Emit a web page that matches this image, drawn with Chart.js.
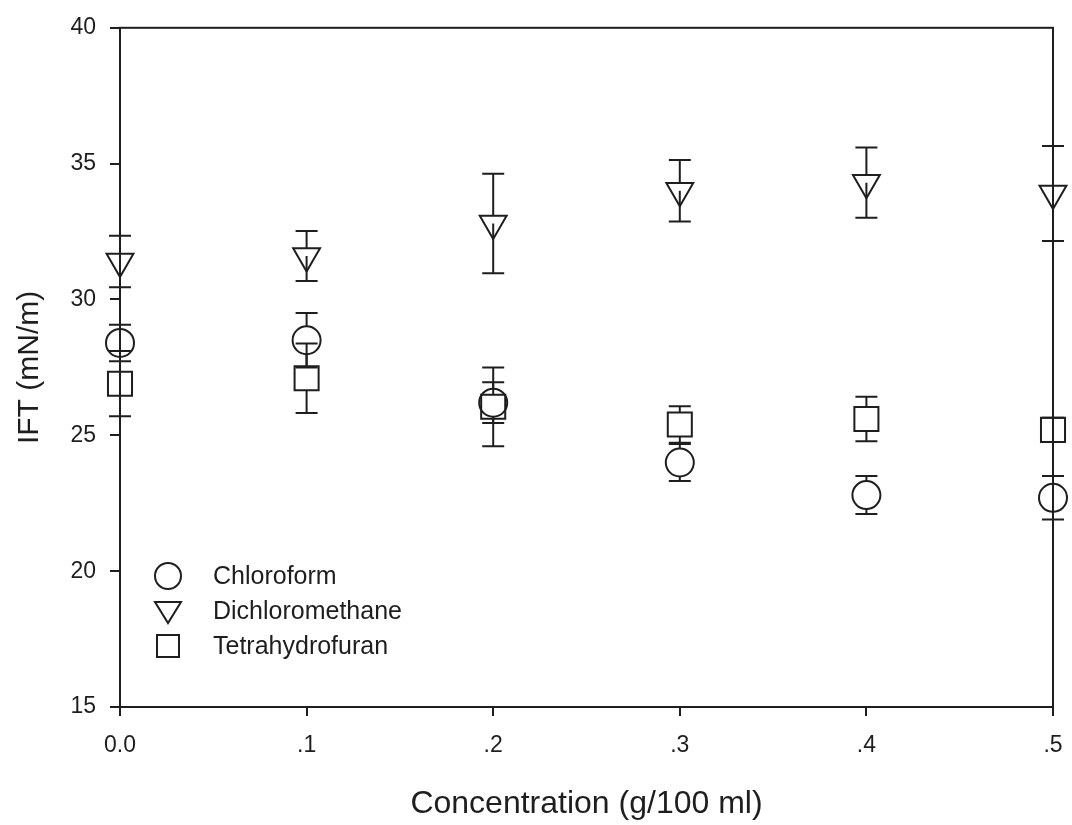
<!DOCTYPE html>
<html>
<head>
<meta charset="utf-8">
<script src="https://cdn.jsdelivr.net/npm/chart.js@4.4.1/dist/chart.umd.min.js"></script>
<style>
  html, body { margin: 0; padding: 0; background: #fff; }
  #wrap { width: 1072px; height: 825px; }
</style>
</head>
<body>
<div id="wrap"><canvas id="iftChart" width="1072" height="825"></canvas></div>
<script>
// values
const concentrations = [0.0, 0.1, 0.2, 0.3, 0.4, 0.5];

const chloroform    = [28.4, 28.5, 26.2, 24.0, 22.8, 22.7];
const chloroformErr = [0.67, 1.0, 0.75, 0.68, 0.7, 0.8];

const dichloromethane    = [31.4, 31.6, 32.8, 34.0, 34.3, 33.9];
const dichloromethaneErr = [0.95, 0.92, 1.83, 1.13, 1.29, 1.75];

const tetrahydrofuran    = [26.9, 27.1, 26.05, 25.4, 25.6, 25.2];
const tetrahydrofuranErr = [1.2, 1.28, 1.45, 0.67, 0.82, 0.45];

const xTickLabels = ['0.0', '.1', '.2', '.3', '.4', '.5'];
const yTickValues = [15, 20, 25, 30, 35, 40];

const ink = '#1e1e1e';
const fontFamily = '"Liberation Sans", Arial, sans-serif';

function toPoints(values) {
  return values.map((v, i) => ({ x: concentrations[i], y: v }));
}

// error bars start at the marker edge, like the original plot
const errorBars = {
  id: 'errorBars',
  afterDatasetsDraw(chart) {
    const ctx = chart.ctx;
    const xs = chart.scales.x;
    const ys = chart.scales.y;
    chart.data.datasets.forEach(ds => {
      ctx.save();
      ctx.strokeStyle = ink;
      ctx.lineWidth = 2;
      ds.data.forEach((pt, i) => {
        const e = ds.errors[i];
        const px = xs.getPixelForValue(pt.x);
        const py = ys.getPixelForValue(pt.y);
        const top = ys.getPixelForValue(pt.y + e);
        const bot = ys.getPixelForValue(pt.y - e);
        ctx.beginPath();
        if (top < py - ds.gapUp) {
          ctx.moveTo(px, top);
          ctx.lineTo(px, py - ds.gapUp);
        }
        if (bot > py + ds.gapDown) {
          ctx.moveTo(px, py + ds.gapDown);
          ctx.lineTo(px, bot);
        }
        ctx.moveTo(px - 11, top);
        ctx.lineTo(px + 11, top);
        ctx.moveTo(px - 11, bot);
        ctx.lineTo(px + 11, bot);
        ctx.stroke();
      });
      ctx.restore();
    });
  }
};

// box round the plot area
const frame = {
  id: 'frame',
  afterDraw(chart) {
    const a = chart.chartArea;
    const ctx = chart.ctx;
    ctx.save();
    ctx.strokeStyle = ink;
    ctx.lineWidth = 2;
    ctx.strokeRect(a.left, a.top, a.right - a.left, a.bottom - a.top);
    ctx.restore();
  }
};

// legend sits inside the plot, bottom left
const insideLegend = {
  id: 'insideLegend',
  afterDraw(chart) {
    const ctx = chart.ctx;
    const a = chart.chartArea;
    const sx = a.left + 48;
    const tx = a.left + 93;
    let y = a.bottom - 131;
    ctx.save();
    ctx.strokeStyle = ink;
    ctx.fillStyle = ink;
    ctx.lineWidth = 2;
    ctx.font = '25px ' + fontFamily;
    ctx.textBaseline = 'middle';
    chart.data.datasets.forEach(ds => {
      ctx.beginPath();
      if (ds.pointStyle === 'circle') {
        ctx.arc(sx, y, 13, 0, Math.PI * 2);
      } else if (ds.pointStyle === 'triangle') {
        ctx.moveTo(sx - 13, y - 9);
        ctx.lineTo(sx + 13, y - 9);
        ctx.lineTo(sx, y + 12);
        ctx.closePath();
      } else {
        ctx.rect(sx - 11, y - 11, 22, 22);
      }
      ctx.stroke();
      ctx.fillText(ds.label, tx, y + 1);
      y += 35;
    });
    ctx.restore();
  }
};

const ctx = document.getElementById('iftChart').getContext('2d');
const chart = new Chart(ctx, {
  type: 'scatter',
  data: {
    datasets: [
      {
        label: 'Chloroform',
        data: toPoints(chloroform),
        errors: chloroformErr,
        pointStyle: 'circle',
        pointRadius: 14,
        gapUp: 14, gapDown: 14
      },
      {
        label: 'Dichloromethane',
        data: toPoints(dichloromethane),
        errors: dichloromethaneErr,
        pointStyle: 'triangle',
        rotation: 180,
        pointRadius: 15.5,
        gapUp: 7.75, gapDown: 0
      },
      {
        label: 'Tetrahydrofuran',
        data: toPoints(tetrahydrofuran),
        errors: tetrahydrofuranErr,
        pointStyle: 'rect',
        pointRadius: 17,
        gapUp: 12, gapDown: 12
      }
    ].map(ds => Object.assign(ds, {
      showLine: false,
      clip: false,
      borderColor: ink,
      backgroundColor: 'rgba(0,0,0,0)',
      pointBorderWidth: 2,
      pointHoverRadius: ds.pointRadius
    }))
  },
  options: {
    responsive: false,
    animation: false,
    devicePixelRatio: 1,
    layout: { padding: { left: 12, top: 27, right: 15, bottom: 2 } },
    plugins: {
      legend: { display: false },
      tooltip: { enabled: false }
    },
    scales: {
      x: {
        type: 'linear',
        min: 0,
        max: 0.5,
        afterBuildTicks: scale => {
          scale.ticks = concentrations.map(v => ({ value: v }));
        },
        ticks: {
          color: ink,
          font: { family: fontFamily, size: 23 },
          padding: 16,
          maxRotation: 0,
          callback: (value, index) => xTickLabels[index]
        },
        grid: {
          display: true,
          drawOnChartArea: false,
          drawTicks: true,
          tickLength: 9,
          color: ink,
          lineWidth: 2
        },
        border: { display: true, color: ink, width: 2 },
        title: {
          display: true,
          text: 'Concentration (g/100 ml)',
          color: ink,
          font: { family: fontFamily, size: 32 },
          padding: { top: 20, bottom: 0 }
        },
        afterFit: scale => {
          scale.height = 116;
          scale.paddingLeft = 0;
          scale.paddingRight = 0;
        }
      },
      y: {
        type: 'linear',
        min: 15,
        max: 40,
        afterBuildTicks: scale => {
          scale.ticks = yTickValues.map(v => ({ value: v }));
        },
        ticks: {
          color: ink,
          font: { family: fontFamily, size: 23 },
          padding: 14,
          callback: value => String(value)
        },
        grid: {
          display: true,
          drawOnChartArea: false,
          drawTicks: true,
          tickLength: 10,
          color: ink,
          lineWidth: 2
        },
        border: { display: true, color: ink, width: 2 },
        title: {
          display: true,
          text: 'IFT (mN/m)',
          color: ink,
          font: { family: fontFamily, size: 30 },
          padding: { top: 0, bottom: 0 }
        },
        afterFit: scale => { scale.width = 108; }
      }
    }
  },
  plugins: [errorBars, frame, insideLegend]
});
</script>
</body>
</html>
